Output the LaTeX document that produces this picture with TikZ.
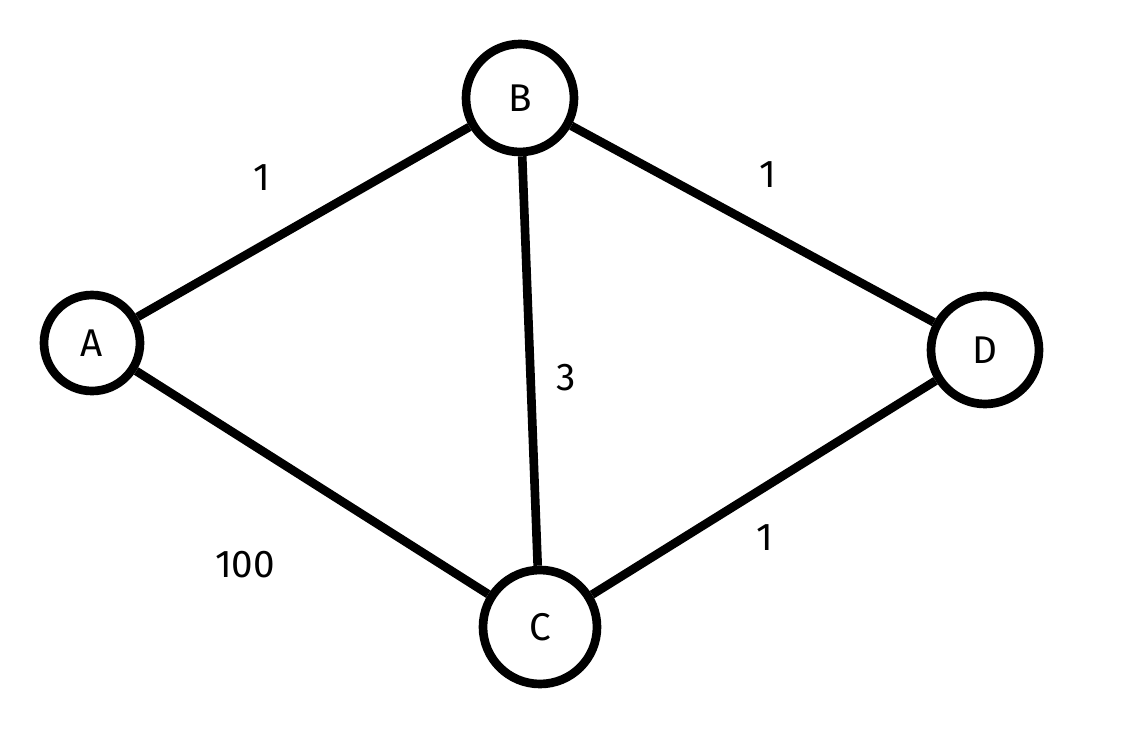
\documentclass[tikz,border=0pt]{standalone}
\usepackage{fontspec}
\setmainfont{Fira Sans}
\begin{document}
\begin{tikzpicture}[x=0.75pt,y=0.75pt,yscale=-1,xscale=1]
\tikzset{vertex/.style={circle,draw,line width=6.5pt,inner sep=0pt,font=\fontsize{29}{33}\selectfont},
  edge/.style={line width=6.5pt},
  weight/.style={font=\fontsize{29}{33}\selectfont}}
\useasboundingbox (0,0) rectangle (1144,734);

% Vertices
\node [vertex,minimum size=96pt*0.75] (A) at (92,343) {A};
\node [vertex,minimum size=108pt*0.75] (B) at (520,98) {B};
\node [vertex,minimum size=114pt*0.75] (C) at (540,627) {C};
\node [vertex,minimum size=108pt*0.75] (D) at (985,350) {D};

% Edges
\draw [edge] (A) -- (B);
\draw [edge] (A) -- (C);
\draw [edge] (B) -- (C);
\draw [edge] (B) -- (D);
\draw [edge] (C) -- (D);

% Weights
\node [weight] (wab) at (262,178) {1};
\node [weight] (wbd) at (768,175) {1};
\node [weight] (wbc) at (566,378) {3};
\node [weight] (wac) at (245,565) {100};
\node [weight] (wcd) at (765,538) {1};
\end{tikzpicture}
\end{document}
